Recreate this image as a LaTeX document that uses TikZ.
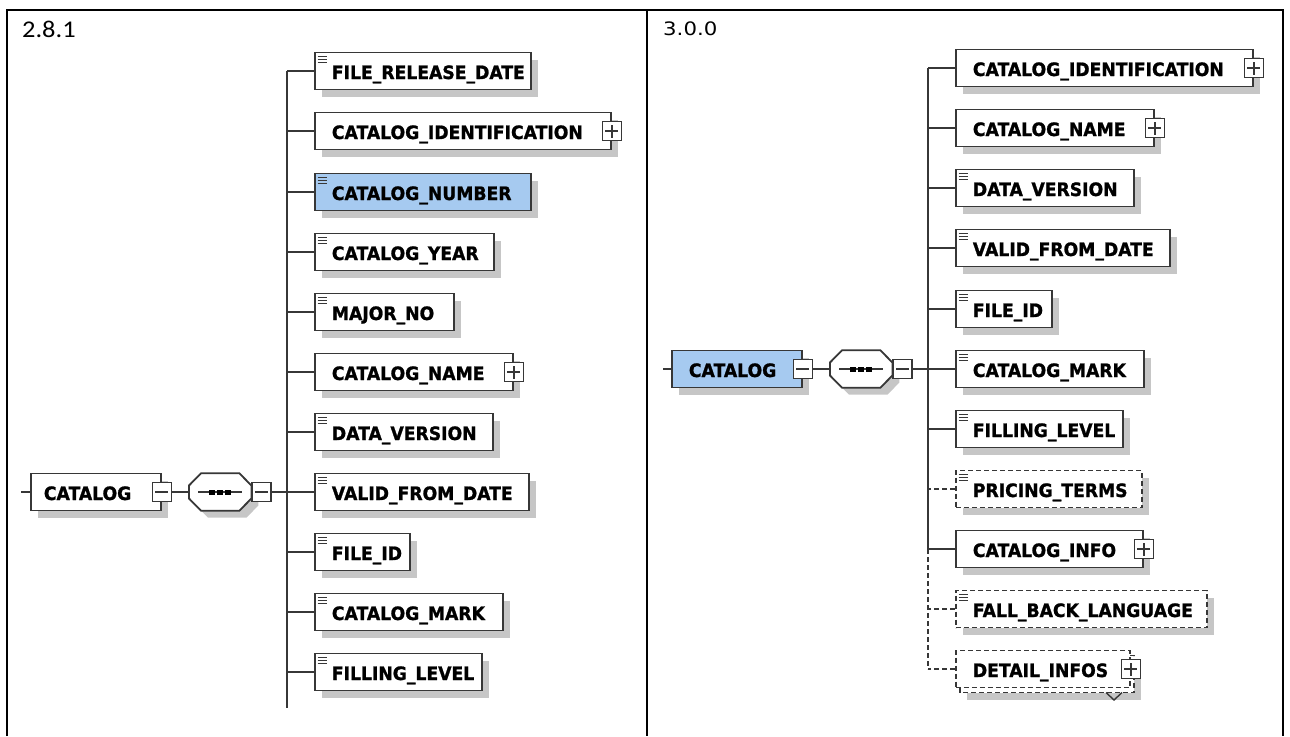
\documentclass[tikz,border=0pt]{standalone}
\usepackage{fontspec}
\setmainfont{DejaVu Sans}
\newfontfamily\xsdfont[FakeStretch=0.935,BoldFeatures={FakeStretch=0.935,FakeBold=1.2}]{DejaVu Sans}
\newfontfamily\calfont[FakeStretch=1.1]{Carlito}
\newfontfamily\verfont[FakeStretch=1.15]{DejaVu Sans}
\usetikzlibrary{shadows,calc}
\definecolor{lgray}{RGB}{55,55,55}
\definecolor{shgray}{RGB}{198,198,198}
\definecolor{selblue}{RGB}{166,202,240}
\tikzset{
  conn/.style={draw=lgray, line width=1.8pt},
  dconn/.style={conn, dash pattern=on 5pt off 3pt},
  xboxbase/.style={draw=lgray, line width=1.8pt, fill=white, anchor=west,
    minimum height=37pt, inner xsep=0pt, inner ysep=0pt, text height=16pt, text depth=0pt,
    font=\xsdfont\bfseries\fontsize{18.4}{20}\selectfont},
  xbox/.style={xboxbase, drop shadow={shadow xshift=7pt, shadow yshift=-7pt, fill=shgray, opacity=1}},
  dbox/.style={dash pattern=on 5pt off 3pt},
  sel/.style={fill=selblue},
  pmbox/.style={draw=lgray, fill=white, line width=1.6pt, minimum size=19pt, inner sep=0pt},
  plusbox/.style={pmbox, path picture={\draw[lgray, line width=1.4pt]
     ($(path picture bounding box.center)+(-6.5pt,0pt)$) -- ($(path picture bounding box.center)+(6.5pt,0pt)$)
     ($(path picture bounding box.center)+(0pt,-6.5pt)$) -- ($(path picture bounding box.center)+(0pt,6.5pt)$);}},
  minusbox/.style={pmbox, path picture={\draw[lgray, line width=1.4pt]
     ($(path picture bounding box.center)+(-6.5pt,0pt)$) -- ($(path picture bounding box.center)+(6.5pt,0pt)$);}},
  icon/.style={draw=lgray, line width=1.3pt},
  seqn/.style={minimum width=62pt, minimum height=37pt, inner sep=0pt, anchor=west},
  octo/.style={draw=lgray, line width=1.8pt, fill=white},
  tabline/.style={draw=black, line width=2.6pt},
}
\newcommand\XsdElem[7][]{\node[xbox,#1] (#2) at (#3,#4) {\makebox[#5pt][l]{\hspace*{#6pt}#7}};}
\newcommand\XsdIcon[1]{\draw[icon] ($(#1.north west)+(3.5,5)$) -- +(9,0)
   ($(#1.north west)+(3.5,8)$) -- +(9,0) ($(#1.north west)+(3.5,11)$) -- +(9,0);}
\newcommand\OctPath[3]{($(#1.west)+(#2,#3-6.5)$) -- ($(#1.north west)+(#2+12,#3)$) -- ($(#1.north east)+(#2-12,#3)$) -- ($(#1.east)+(#2,#3-6.5)$) -- ($(#1.east)+(#2,#3+6.5)$) -- ($(#1.south east)+(#2-12,#3)$) -- ($(#1.south west)+(#2+12,#3)$) -- ($(#1.west)+(#2,#3+6.5)$) -- cycle}
\newcommand\XsdSeq[1]{%
  \fill[shgray] \OctPath{#1}{7}{7};
  \path[octo] \OctPath{#1}{0}{0};
  \draw[conn, line width=1.5pt] ($(#1.west)+(9,0)$) -- ($(#1.east)+(-9,0)$);
  \fill[black] ($(#1.center)+(-11,-2.5)$) rectangle +(6,5);
  \fill[black] ($(#1.center)+(-3,-2.5)$) rectangle +(6,5);
  \fill[black] ($(#1.center)+(5,-2.5)$) rectangle +(6,5);}
\begin{document}
\begin{tikzpicture}[x=1pt,y=-1pt]
\useasboundingbox (0,0) rectangle (1290,736);
% table
\draw[tabline] (7,736) -- (7,10) -- (1283,10) -- (1283,736);
\draw[tabline] (647,10) -- (647,736);
\node[anchor=base west, inner sep=0pt, font=\calfont\fontsize{24}{26}\selectfont] (v281) at (22,37) {2.8.1};
\node[anchor=base west, inner sep=0pt, font=\verfont\fontsize{18.5}{20}\selectfont] (v300) at (663,35) {3.0.0};

% ===== left panel =====
\coordinate (tL) at (287,71);
\coordinate (tLb) at (287,708);
\XsdElem{l1}{314}{71}{216}{17}{FILE\_RELEASE\_DATE}\XsdIcon{l1}
\XsdElem{l2}{314}{131}{296}{17}{CATALOG\_IDENTIFICATION}
\node[plusbox] (l2p) at (l2.east) {};
\XsdElem[sel]{l3}{314}{192}{216}{17}{CATALOG\_NUMBER}\XsdIcon{l3}
\XsdElem{l4}{314}{252}{179}{17}{CATALOG\_YEAR}\XsdIcon{l4}
\XsdElem{l5}{314}{312}{139}{17}{MAJOR\_NO}\XsdIcon{l5}
\XsdElem{l6}{314}{372}{198}{17}{CATALOG\_NAME}
\node[plusbox] (l6p) at (l6.east) {};
\XsdElem{l7}{314}{432}{178}{17}{DATA\_VERSION}\XsdIcon{l7}
\XsdElem{l8}{314}{492}{214}{17}{VALID\_FROM\_DATE}\XsdIcon{l8}
\XsdElem{l9}{314}{552}{95}{17}{FILE\_ID}\XsdIcon{l9}
\XsdElem{l10}{314}{612}{188}{17}{CATALOG\_MARK}\XsdIcon{l10}
\XsdElem{l11}{314}{672}{167}{17}{FILLING\_LEVEL}\XsdIcon{l11}

\XsdElem{c1}{30}{492}{130}{13}{CATALOG}
\node[minusbox] (c1m) at (c1.east) {};
\node[seqn] (s1) at (189,492) {};
\XsdSeq{s1}
\node[minusbox, anchor=west] (s1m) at (s1.east) {};
\coordinate (c1in) at (21,492);

\draw[conn] (tL) -- (tLb);
\foreach \n in {l1,l2,l3,l4,l5,l6,l7,l8,l9,l10,l11}{\draw[conn] (\n.west) -- (\n.west -| tL);}
\draw[conn] (c1in) -- (c1.west);
\draw[conn] (c1m.east) -- (s1.west);
\draw[conn] (s1m.east) -- (s1m.east -| tL);

% ===== right panel =====
\coordinate (tR) at (928,68);
\coordinate (tRm) at (928,549);
\coordinate (tRb) at (928,669);
\XsdElem{r1}{955}{68}{297}{17}{CATALOG\_IDENTIFICATION}
\node[plusbox] (r1p) at (r1.east) {};
\XsdElem{r2}{955}{128}{198}{17}{CATALOG\_NAME}
\node[plusbox] (r2p) at (r2.east) {};
\XsdElem{r3}{955}{188}{178}{17}{DATA\_VERSION}\XsdIcon{r3}
\XsdElem{r4}{955}{248}{214}{17}{VALID\_FROM\_DATE}\XsdIcon{r4}
\XsdElem{r5}{955}{309}{96}{17}{FILE\_ID}\XsdIcon{r5}
\XsdElem{r6}{955}{369}{188}{17}{CATALOG\_MARK}\XsdIcon{r6}
\XsdElem{r7}{955}{429}{167}{17}{FILLING\_LEVEL}\XsdIcon{r7}
\XsdElem[dbox]{r8}{955}{489}{186}{17}{PRICING\_TERMS}\XsdIcon{r8}
\XsdElem{r9}{955}{549}{187}{17}{CATALOG\_INFO}
\node[plusbox] (r9p) at (r9.east) {};
\XsdElem[dbox]{r10}{955}{609}{251}{17}{FALL\_BACK\_LANGUAGE}\XsdIcon{r10}
% multiple occurrence back box
\fill[shgray] (967,662.5) rectangle (1141,699.5);
\draw[draw=lgray, line width=1.8pt, fill=white, dbox] (960,655.5) rectangle (1134,692.5);
\node[xboxbase, dbox] (r11) at (955,669) {\makebox[174pt][l]{\hspace*{17pt}DETAIL\_INFOS}};
\node[plusbox] (r11p) at (r11.east) {};
\draw[conn, line width=1.4pt] (1106,692.5) -- (1114,700) -- (1122,692.5);

\XsdElem[sel]{c2}{671}{369}{130}{17}{CATALOG}
\node[minusbox] (c2m) at (c2.east) {};
\node[seqn] (s2) at (830,369) {};
\XsdSeq{s2}
\node[minusbox, anchor=west] (s2m) at (s2.east) {};
\coordinate (c2in) at (663,369);

\draw[conn] (tR) -- (tRm);
\draw[dconn] (tRm) -- (tRb);
\foreach \n in {r1,r2,r3,r4,r5,r6,r7,r9}{\draw[conn] (\n.west) -- (\n.west -| tR);}
\foreach \n in {r8,r10,r11}{\draw[dconn] (\n.west) -- (\n.west -| tR);}
\draw[conn] (c2in) -- (c2.west);
\draw[conn] (c2m.east) -- (s2.west);
\draw[conn] (s2m.east) -- (s2m.east -| tR);
\end{tikzpicture}
\end{document}
